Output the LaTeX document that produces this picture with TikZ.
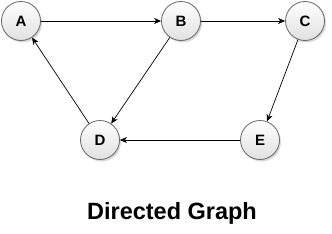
\documentclass[tikz,border=0pt]{standalone}
\usepackage{fontspec}
\setmainfont{Liberation Sans}
\usetikzlibrary{arrows.meta,shadows,shadings}
\begin{document}
\begin{tikzpicture}[x=1pt,y=-1pt,
  vtx/.style={circle,minimum size=39pt,inner sep=0pt,draw=black!60,line width=0.8pt,
    top color=white,bottom color=black!12,
    drop shadow={shadow xshift=1.5pt,shadow yshift=-2pt,opacity=0.25,fill=black!60},
    font=\fontsize{15}{15}\selectfont\bfseries},
  edge/.style={-{Stealth[length=7pt,width=6pt,inset=2pt]},line width=0.7pt,black}]
\useasboundingbox (0,0) rectangle (332,233);
\node[vtx] (A) at (21,21) {A};
\node[vtx] (B) at (181,21) {B};
\node[vtx] (C) at (305,21) {C};
\node[vtx] (D) at (100,140) {D};
\node[vtx] (E) at (260,140) {E};
\draw[edge] (A) -- (B);
\draw[edge] (B) -- (C);
\draw[edge] (B) -- (D);
\draw[edge] (C) -- (E);
\draw[edge] (E) -- (D);
\draw[edge] (D) -- (A);
\node[font=\fontsize{23.5}{23.5}\selectfont\bfseries] (T) at (172,213) {Directed Graph};
\end{tikzpicture}
\end{document}
